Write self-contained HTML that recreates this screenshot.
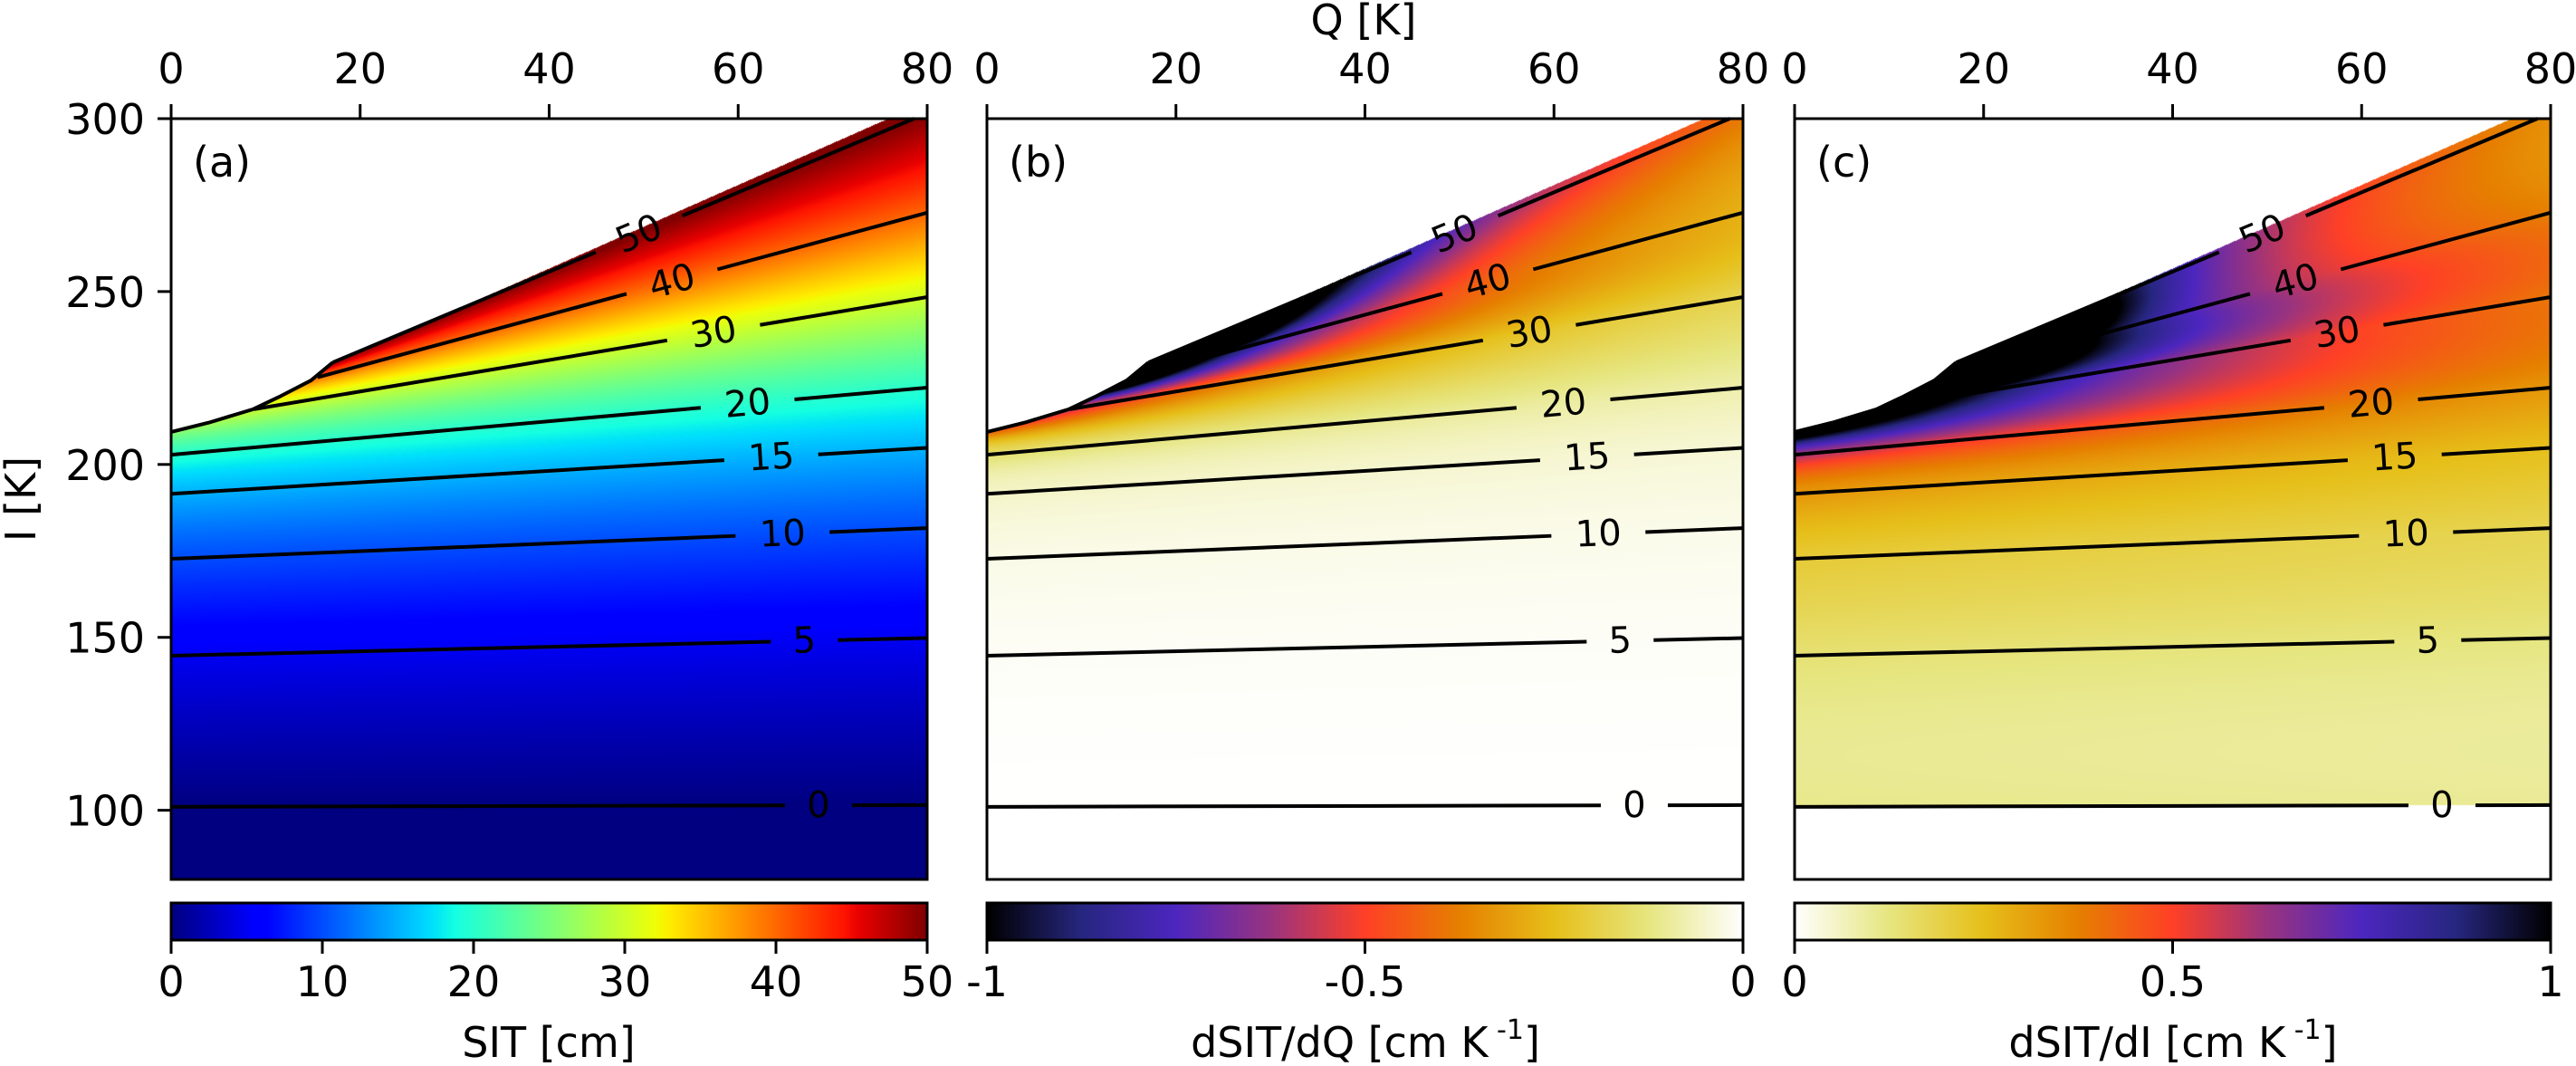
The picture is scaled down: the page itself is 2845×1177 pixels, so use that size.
<!DOCTYPE html>
<html><head><meta charset="utf-8">
<style>
html,body{margin:0;padding:0;background:#fff;}
#wrap{position:relative;width:2845px;height:1177px;overflow:hidden;font-family:"DejaVu Sans","Liberation Sans",sans-serif;}
canvas{position:absolute;}
svg{position:absolute;left:0;top:0;}
</style></head>
<body>
<div id="wrap">
<canvas id="cv0" width="835" height="840" style="left:189px;top:131px"></canvas>
<canvas id="cv1" width="835" height="840" style="left:1090px;top:131px"></canvas>
<canvas id="cv2" width="835" height="840" style="left:1982px;top:131px"></canvas>
<canvas id="cb0" width="835" height="41" style="left:189px;top:997px"></canvas>
<canvas id="cb1" width="835" height="41" style="left:1090px;top:997px"></canvas>
<canvas id="cb2" width="835" height="41" style="left:1982px;top:997px"></canvas>
<svg id="ov" width="2845" height="1177" xmlns="http://www.w3.org/2000/svg"></svg>
</div>
<script>
// ---- data ----
const levels = [0, 5, 10, 15, 20, 30, 40, 50];
const lineStartQ = [0, 0, 0, 0, 0, 8.8, 15.5, 17.1];
const lineStartI = [101, 144.7, 172.7, 191.5, 202.8, 216, 225.2, 229.5];
const lineEndQ = [80, 80, 80, 80, 80, 80, 80, 78.6];
const lineEndI = [101.5, 149.8, 181.6, 204.8, 222.2, 248.4, 272.8, 300];
const labelQ = [68.5, 67, 64.7, 63.5, 61, 57.4, 53, 49.5];
const boundaryQ = [0, 4, 8.7, 11.4, 14.8, 17.1, 19.5, 75.9, 80];
const boundaryI = [209.4, 212.1, 216, 219.5, 224.3, 229.5, 231.9, 300, 300];
const xTicks = [0, 20, 40, 60, 80];
const yTicks = [100, 150, 200, 250, 300];
const cbTicks0 = [0, 10, 20, 30, 40, 50];
const cbTicks1 = [-1, -0.5, 0];
const cbTickLabels1 = ["-1", "-0.5", "0"];
const cbTicks2 = [0, 0.5, 1];
const cbTickLabels2 = ["0", "0.5", "1"];
const panelLabels = ["(a)", "(b)", "(c)"];

// ---- layout ----
const PX = [189, 1090, 1982], PY = 131, PW = 835, PH = 840;
const QMIN = 0, QMAX = 80, IMIN = 80, IMAX = 300;
const CBY = 997, CBH = 41;
function xs(p, q){ return PX[p] + (q - QMIN) / (QMAX - QMIN) * PW; }
function ys(i){ return PY + (IMAX - i) / (IMAX - IMIN) * PH; }

// ---- model ----
function lineAt(k, q){
  const s = (lineEndI[k] - lineStartI[k]) / (lineEndQ[k] - lineStartQ[k]);
  return lineStartI[k] + s * (q - lineStartQ[k]);
}
function boundaryAt(q){
  for (let j = 0; j < boundaryQ.length - 1; j++){
    if (q <= boundaryQ[j+1]){
      const t = (q - boundaryQ[j]) / (boundaryQ[j+1] - boundaryQ[j]);
      return boundaryI[j] + t * (boundaryI[j+1] - boundaryI[j]);
    }
  }
  return boundaryI[boundaryI.length-1];
}
const nodes = new Float64Array(levels.length);
const msl = new Float64Array(levels.length);
function sit(q, I){
  const n = levels.length;
  for (let k = 0; k < n; k++){
    let v = lineAt(k, q);
    if (k > 0 && v < nodes[k-1] + 0.3) v = nodes[k-1] + 0.3;
    nodes[k] = v;
  }
  const d = [];
  for (let k = 0; k < n - 1; k++) d.push((levels[k+1] - levels[k]) / (nodes[k+1] - nodes[k]));
  msl[0] = d[0]; msl[n-1] = d[n-2];
  for (let k = 1; k < n - 1; k++) msl[k] = 2 * d[k-1] * d[k] / (d[k-1] + d[k]);
  if (I <= nodes[0]) return { v: levels[0] + d[0] * (I - nodes[0]), g: d[0] };
  if (I >= nodes[n-1]) return { v: levels[n-1] + d[n-2] * (I - nodes[n-1]), g: d[n-2] };
  let k = 0;
  while (I > nodes[k+1]) k++;
  const h = nodes[k+1] - nodes[k], t = (I - nodes[k]) / h;
  const y0 = levels[k], y1 = levels[k+1], m0 = msl[k] * h, m1 = msl[k+1] * h;
  const t2 = t*t, t3 = t2*t;
  const v = (2*t3 - 3*t2 + 1)*y0 + (t3 - 2*t2 + t)*m0 + (-2*t3 + 3*t2)*y1 + (t3 - t2)*m1;
  const g = ((6*t2 - 6*t)*y0 + (3*t2 - 4*t + 1)*m0 + (-6*t2 + 6*t)*y1 + (3*t2 - 2*t)*m1) / h;
  return { v: v, g: g };
}

// ---- colormaps ----
function interp(seg, x){
  if (x <= seg[0][0]) return seg[0][1];
  for (let i = 0; i < seg.length - 1; i++){
    if (x <= seg[i+1][0]){
      const t = (x - seg[i][0]) / (seg[i+1][0] - seg[i][0]);
      return seg[i][1] + t * (seg[i+1][1] - seg[i][1]);
    }
  }
  return seg[seg.length-1][1];
}
const jr = [[0,0],[0.35,0],[0.66,1],[0.89,1],[1,0.5]];
const jg = [[0,0],[0.125,0],[0.375,1],[0.64,1],[0.91,0],[1,0]];
const jb = [[0,0.5],[0.11,1],[0.34,1],[0.65,0],[1,0]];
function jet(x){ x = Math.max(0, Math.min(1, x)); return [interp(jr,x)*255, interp(jg,x)*255, interp(jb,x)*255]; }
const cr = [[0,0],[0.125,0.15],[0.25,0.3],[0.375,0.6],[0.5,1],[0.625,0.9],[0.75,0.9],[0.875,0.9],[1,1]];
const cg = [[0,0],[0.125,0.15],[0.25,0.15],[0.375,0.2],[0.5,0.25],[0.625,0.5],[0.75,0.75],[0.875,0.9],[1,1]];
const cbb = [[0,0],[0.125,0.5],[0.25,0.75],[0.375,0.5],[0.5,0.15],[0.625,0],[0.75,0.1],[0.875,0.5],[1,1]];
function cmr(x){ x = Math.max(0, Math.min(1, x)); return [interp(cr,x)*255, interp(cg,x)*255, interp(cbb,x)*255]; }
function colorFor(p, val){
  if (p === 0) return jet(val / 50);
  if (p === 1) return cmr(val + 1);
  return cmr(1 - val);
}

// ---- heatmaps ----
for (let p = 0; p < 3; p++){
  const cv = document.getElementById('cv' + p), ctx = cv.getContext('2d');
  const img = ctx.createImageData(PW, PH), D = img.data;
  for (let px = 0; px < PW; px++){
    const q = QMIN + (px + 0.5) / PW * (QMAX - QMIN);
    const bI = boundaryAt(q);
    for (let py = 0; py < PH; py++){
      const I = IMAX - (py + 0.5) / PH * (IMAX - IMIN);
      const o = (py * PW + px) * 4;
      let c = [255,255,255];
      if (I <= bI){
        const s = sit(q, I);
        if (p === 0) c = colorFor(0, s.v);
        else if (s.v >= 0){
          if (p === 2) c = colorFor(2, s.g);
          else {
            const hq = 0.4;
            const a = sit(q + hq, I).v, b = sit(Math.max(0, q - hq), I).v;
            c = colorFor(1, (a - b) / (q + hq - Math.max(0, q - hq)));
          }
        }
      }
      D[o] = c[0]; D[o+1] = c[1]; D[o+2] = c[2]; D[o+3] = 255;
    }
  }
  ctx.putImageData(img, 0, 0);
  const cb = document.getElementById('cb' + p), bx = cb.getContext('2d');
  for (let px = 0; px < PW; px++){
    const f = (px + 0.5) / PW;
    const val = p === 0 ? f * 50 : (p === 1 ? f - 1 : f);
    const c = colorFor(p, val);
    bx.fillStyle = 'rgb(' + c.map(Math.round).join(',') + ')';
    bx.fillRect(px, 0, 1, CBH);
  }
}

// ---- overlay ----
const NS = 'http://www.w3.org/2000/svg';
const ov = document.getElementById('ov');
function mk(tag, attrs, parent){
  const e = document.createElementNS(NS, tag);
  for (const k in attrs) e.setAttribute(k, attrs[k]);
  (parent || ov).appendChild(e);
  return e;
}
const FS = 46;
const panelNames = ['sit', 'dsitdq', 'dsitdi'];
for (let p = 0; p < 3; p++){
  const g = mk('g', {});
  
  
  for (let k = 0; k < levels.length; k++){
    const x0 = xs(p, lineStartQ[k]), y0 = ys(lineStartI[k]);
    const x1 = xs(p, lineEndQ[k]), y1 = ys(lineEndI[k]);
    const ang = Math.atan2(y1 - y0, x1 - x0);
    const lx = xs(p, labelQ[k]), ly = ys(lineAt(k, labelQ[k]));
    const txt = String(levels[k]);
    const half = txt.length * 15 + 22;
    const gx = half * Math.cos(ang), gy = half * Math.sin(ang);
    const seg1 = mk('line', {x1: x0, y1: y0, x2: lx - gx, y2: ly - gy, stroke: '#000', 'stroke-width': 4}, g);
    
    
    const seg2 = mk('line', {x1: lx + gx, y1: ly + gy, x2: x1, y2: y1, stroke: '#000', 'stroke-width': 4}, g);
    
    
    const t = mk('text', {x: lx, y: ly, 'font-size': 40, 'text-anchor': 'middle', 'dominant-baseline': 'central',
      transform: 'rotate(' + (ang * 180 / Math.PI) + ' ' + lx + ' ' + ly + ')'}, g);
    t.textContent = txt;
    
    
  }
  let pts = [];
  for (let j = 0; j < boundaryQ.length; j++){ if (boundaryQ[j] <= 17.2) pts.push(xs(p, boundaryQ[j]) + ',' + ys(boundaryI[j])); }
  const be = mk('polyline', {points: pts.join(' '), fill: 'none', stroke: '#000', 'stroke-width': 4}, g);
  
  
  const fr = mk('rect', {x: PX[p], y: PY, width: PW, height: PH, fill: 'none', stroke: '#000', 'stroke-width': 3}, g);
  
  
  for (let i = 0; i < xTicks.length; i++){
    const x = xs(p, xTicks[i]);
    const tk = mk('line', {x1: x, y1: PY, x2: x, y2: PY - 16, stroke: '#000', 'stroke-width': 3}, g);
    
    
    const tl = mk('text', {x: x, y: 92, 'font-size': FS, 'text-anchor': 'middle'}, g);
    tl.textContent = String(xTicks[i]);
    
    
  }
  if (p === 0){
    for (let i = 0; i < yTicks.length; i++){
      const y = ys(yTicks[i]);
      const tk = mk('line', {x1: PX[p], y1: y, x2: PX[p] - 15, y2: y, stroke: '#000', 'stroke-width': 3}, g);
      
      
      const tl = mk('text', {x: 160, y: y + 17, 'font-size': FS, 'text-anchor': 'end'}, g);
      tl.textContent = String(yTicks[i]);
      
      
    }
  }
  const pl = mk('text', {x: PX[p] + 24, y: 195, 'font-size': FS}, g);
  pl.textContent = panelLabels[p];
  
  
  const cf = mk('rect', {x: PX[p], y: CBY, width: PW, height: CBH, fill: 'none', stroke: '#000', 'stroke-width': 3}, g);
  
  
  let tv, tlab, lo, hi;
  if (p === 0){ tv = cbTicks0; tlab = cbTicks0.map(String); lo = 0; hi = 50; }
  else if (p === 1){ tv = cbTicks1; tlab = cbTickLabels1; lo = -1; hi = 0; }
  else { tv = cbTicks2; tlab = cbTickLabels2; lo = 0; hi = 1; }
  for (let i = 0; i < tv.length; i++){
    const x = PX[p] + (tv[i] - lo) / (hi - lo) * PW;
    const tk = mk('line', {x1: x, y1: CBY + CBH, x2: x, y2: CBY + CBH + 15, stroke: '#000', 'stroke-width': 3}, g);
    
    
    const tl = mk('text', {x: x, y: 1100, 'font-size': FS, 'text-anchor': 'middle'}, g);
    tl.textContent = tlab[i];
    
    
  }
}
const qt = mk('text', {x: 1506, y: 38, 'font-size': FS, 'text-anchor': 'middle'});
qt.textContent = 'Q [K]';


const it = mk('text', {x: 0, y: 0, 'font-size': FS, 'text-anchor': 'middle', transform: 'translate(39 551) rotate(-90)'});
it.textContent = 'I [K]';


const ct0 = mk('text', {x: 606, y: 1167, 'font-size': FS, 'text-anchor': 'middle'});
ct0.textContent = 'SIT [cm]';


const ct1 = mk('text', {x: 1508, y: 1167, 'font-size': FS, 'text-anchor': 'middle'});
ct1.innerHTML = 'dSIT/dQ [cm K<tspan font-size="30" dy="-20"> -1</tspan><tspan dy="20">]</tspan>';


const ct2 = mk('text', {x: 2400, y: 1167, 'font-size': FS, 'text-anchor': 'middle'});
ct2.innerHTML = 'dSIT/dI [cm K<tspan font-size="30" dy="-20"> -1</tspan><tspan dy="20">]</tspan>';


</script>
</body></html>
